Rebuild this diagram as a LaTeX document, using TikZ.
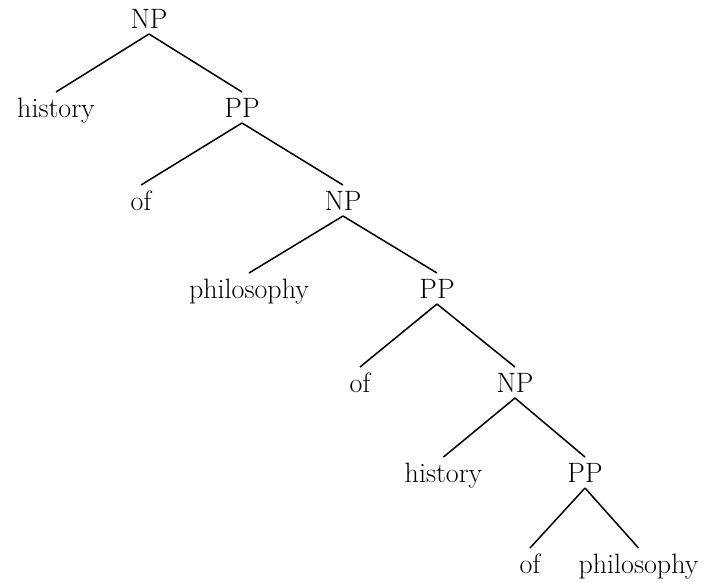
\documentclass[tikz,border=0pt]{standalone}
\begin{document}
\begin{tikzpicture}[x=1pt,y=1pt,
  lbl/.style={inner sep=0pt, anchor=base, font=\fontsize{28}{32}\selectfont},
  edge/.style={line width=1.5pt}]
\useasboundingbox (0,0) rectangle (709,-582);
% nodes (base positions)
\node[lbl] (np1) at (149,-28) {NP};
\node[lbl] (hi1) at (56,-117) {history};
\node[lbl] (pp1) at (242,-117) {PP};
\node[lbl] (of1) at (141,-210) {of};
\node[lbl] (np2) at (343,-210) {NP};
\node[lbl] (ph1) at (249,-298) {philosophy};
\node[lbl] (pp2) at (437,-298) {PP};
\node[lbl] (of2) at (360,-392) {of};
\node[lbl] (np3) at (515,-392) {NP};
\node[lbl] (hi2) at (443.5,-482) {history};
\node[lbl] (pp3) at (585,-482) {PP};
\node[lbl] (of3) at (530,-573) {of};
\node[lbl] (ph2) at (638.5,-573) {philosophy};
% edges
\foreach \p/\c in {np1/hi1,np1/pp1,pp1/of1,pp1/np2,np2/ph1,np2/pp2,pp2/of2,pp2/np3,np3/hi2,np3/pp3,pp3/of3,pp3/ph2}
  \draw[edge] ([yshift=-6pt]\p.base) -- ([yshift=25pt]\c.base);
\end{tikzpicture}
\end{document}
